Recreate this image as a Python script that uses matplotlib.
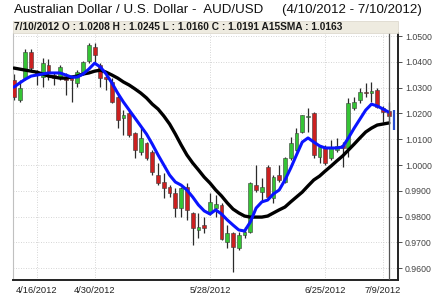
import matplotlib
matplotlib.use("Agg")
import matplotlib.pyplot as plt
from matplotlib.patches import Rectangle
import numpy as np

# ---------------- data ----------------
tick_labels = ["4/16/2012", "4/30/2012", "5/28/2012", "6/25/2012", "7/9/2012"]
tick_days = [4, 14, 34, 54, 64]          # trading-day index of each date label

opens = [1.0329, 1.0252, 1.0337, 1.0438, 1.0360, 1.0341, 1.0388, 1.0349, 1.0341, 1.0341,
         1.0337, 1.0318, 1.0360, 1.0403, 1.0457, 1.0388, 1.0341, 1.0322, 1.0264, 1.0182,
         1.0202, 1.0124, 1.0050, 1.0085, 1.0050, 0.9961, 0.9934, 0.9915, 0.9891, 0.9833,
         0.9915, 0.9814, 0.9748, 0.9767, 0.9818, 0.9833, 0.9845, 0.9702, 0.9736, 0.9678,
         0.9729, 0.9740, 0.9922, 0.9895, 0.9992, 0.9872, 0.9961, 0.9934, 1.0027, 1.0058,
         1.0128, 1.0186, 1.0202, 1.0031, 1.0066, 1.0027, 1.0058, 1.0078, 1.0066, 1.0221,
         1.0252, 1.0283, 1.0279, 1.0291, 1.0221, 1.0208]
highs = [1.0353, 1.0329, 1.0450, 1.0450, 1.0368, 1.0415, 1.0411, 1.0360, 1.0388, 1.0357,
         1.0341, 1.0368, 1.0403, 1.0473, 1.0473, 1.0395, 1.0349, 1.0337, 1.0271, 1.0213,
         1.0213, 1.0128, 1.0143, 1.0089, 1.0058, 1.0008, 0.9969, 0.9922, 0.9911, 0.9915,
         0.9930, 0.9818, 0.9814, 0.9798, 0.9891, 0.9884, 0.9853, 0.9767, 0.9740, 0.9740,
         0.9760, 0.9934, 1.0000, 0.9950, 1.0000, 0.9961, 1.0000, 1.0031, 1.0109, 1.0143,
         1.0194, 1.0221, 1.0205, 1.0078, 1.0078, 1.0097, 1.0105, 1.0089, 1.0260, 1.0264,
         1.0298, 1.0318, 1.0322, 1.0298, 1.0229, 1.0245]
lows = [1.0252, 1.0244, 1.0329, 1.0368, 1.0310, 1.0302, 1.0329, 1.0310, 1.0329, 1.0271,
        1.0244, 1.0302, 1.0349, 1.0395, 1.0399, 1.0302, 1.0291, 1.0240, 1.0143, 1.0116,
        1.0109, 1.0027, 1.0039, 1.0019, 0.9961, 0.9922, 0.9872, 0.9876, 0.9798, 0.9798,
        0.9787, 0.9690, 0.9717, 0.9736, 0.9806, 0.9798, 0.9709, 0.9678, 0.9585, 0.9671,
        0.9717, 0.9736, 0.9895, 0.9857, 0.9872, 0.9853, 0.9934, 0.9930, 1.0019, 1.0054,
        1.0124, 1.0128, 1.0027, 1.0008, 1.0000, 1.0019, 1.0050, 0.9992, 1.0031, 1.0213,
        1.0240, 1.0264, 1.0244, 1.0221, 1.0167, 1.0160]
closes = [1.0264, 1.0298, 1.0438, 1.0376, 1.0349, 1.0395, 1.0360, 1.0337, 1.0380, 1.0329,
          1.0329, 1.0360, 1.0399, 1.0465, 1.0426, 1.0337, 1.0333, 1.0244, 1.0174, 1.0194,
          1.0116, 1.0058, 1.0105, 1.0027, 0.9973, 0.9930, 0.9911, 0.9891, 0.9833, 0.9911,
          0.9826, 0.9756, 0.9760, 0.9756, 0.9857, 0.9849, 0.9713, 0.9736, 0.9682, 0.9729,
          0.9740, 0.9930, 0.9903, 0.9915, 0.9876, 0.9953, 0.9942, 1.0027, 1.0085, 1.0124,
          1.0194, 1.0190, 1.0039, 1.0070, 1.0008, 1.0066, 1.0074, 1.0066, 1.0240, 1.0244,
          1.0283, 1.0279, 1.0287, 1.0225, 1.0205, 1.0191]

sma15 = [1.0376, 1.0372, 1.0368, 1.0364, 1.0360, 1.0353, 1.0345, 1.0341, 1.0337, 1.0337,
         1.0341, 1.0345, 1.0353, 1.0357, 1.0364, 1.0368, 1.0360, 1.0349, 1.0337, 1.0322,
         1.0310, 1.0295, 1.0279, 1.0260, 1.0236, 1.0217, 1.0190, 1.0159, 1.0120, 1.0078,
         1.0039, 1.0008, 0.9981, 0.9953, 0.9930, 0.9903, 0.9880, 0.9853, 0.9829, 0.9814,
         0.9802, 0.9798, 0.9798, 0.9798, 0.9802, 0.9814, 0.9826, 0.9837, 0.9857, 0.9876,
         0.9895, 0.9919, 0.9942, 0.9957, 0.9977, 0.9996, 1.0016, 1.0035, 1.0058, 1.0081,
         1.0105, 1.0128, 1.0143, 1.0155, 1.0159, 1.0163]
sma_fast = [1.0302, 1.0318, 1.0333, 1.0345, 1.0349, 1.0353, 1.0357, 1.0357, 1.0357, 1.0349,
            1.0341, 1.0341, 1.0353, 1.0372, 1.0395, 1.0380, 1.0353, 1.0318, 1.0279, 1.0244,
            1.0213, 1.0182, 1.0151, 1.0120, 1.0081, 1.0039, 1.0000, 0.9961, 0.9934, 0.9922,
            0.9903, 0.9876, 0.9845, 0.9822, 0.9810, 0.9826, 0.9810, 0.9787, 0.9767, 0.9748,
            0.9744, 0.9779, 0.9833, 0.9857, 0.9864, 0.9888, 0.9903, 0.9942, 0.9988, 1.0039,
            1.0089, 1.0105, 1.0089, 1.0074, 1.0066, 1.0066, 1.0066, 1.0070, 1.0105, 1.0143,
            1.0178, 1.0213, 1.0236, 1.0229, 1.0217, 1.0205]

last_info = "7/10/2012 O : 1.0208 H : 1.0245 L : 1.0160 C : 1.0191 A15SMA : 1.0163"
title = "Australian Dollar / U.S. Dollar -  AUD/USD     (4/10/2012 - 7/10/2012)"
marker_bar = (1.0136, 1.0213)   # blue bar right of the last candle
y_ticks = [0.96, 0.97, 0.98, 0.99, 1.00, 1.01, 1.02, 1.03, 1.04, 1.05]

# ---------------- figure ----------------
W, H = 434, 296
fig = plt.figure(figsize=(W / 100, H / 100), dpi=100)
fig.patch.set_facecolor("white")
ax = fig.add_axes([13 / W, 1 - 280 / H, (398 - 13) / W, (280 - 33) / H])

n = len(opens)
x = np.arange(n)
o = np.array(opens); c = np.array(closes); h = np.array(highs); l = np.array(lows)
up = c >= o

# grid
for yv in y_ticks:
    ax.axhline(yv, color="#c8c8c8", lw=0.6, ls=(0, (1, 2)), zorder=0)
for xv in tick_days:
    ax.axvline(xv, color="#c8c8c8", lw=0.6, ls=(0, (1, 2)), zorder=0)

# wicks
ax.vlines(x, l, h, color="#2b2b2b", lw=0.9, zorder=2)
# bodies
bottoms = np.minimum(o, c)
heights = np.maximum(np.abs(c - o), 0.0002)
colors = np.where(up, "#35c435", "#cc2020")
ax.bar(x, heights, bottom=bottoms, width=0.66, color=colors,
       edgecolor="#3a3a3a", linewidth=0.4, zorder=3)

# moving averages
ax.plot(x, sma15, color="black", lw=2.4, zorder=4, solid_capstyle="round")
ax.plot(x, sma_fast, color="#0a14ff", lw=2.2, zorder=5, solid_capstyle="round")

# cursor line at last bar and blue marker bar
ax.axvline(n - 1, color="#555555", lw=0.9, zorder=6)
ax.vlines(n - 0.1, marker_bar[0], marker_bar[1], color="#2a4fd0", lw=1.6, zorder=6)

ax.set_xlim(-0.15, 66.6)
ax.set_ylim(0.9554, 1.0512)

# axes styling
ax.yaxis.tick_right()
ax.set_yticks(y_ticks)
ax.set_yticklabels([f"{v:.4f}" for v in y_ticks])
ax.set_xticks(tick_days)
ax.set_xticklabels(tick_labels)
ax.tick_params(axis="y", direction="out", length=3, width=0.6, color="#333333",
               labelsize=6.3, labelcolor="#444444", pad=2)
ax.tick_params(axis="x", length=0, labelsize=6.7, labelcolor="#222222", pad=4)
for lab in ax.get_xticklabels() + ax.get_yticklabels():
    lab.set_family(["Liberation Sans", "DejaVu Sans"])
ax.spines["left"].set_color("#c0c0c0")
ax.spines["left"].set_linewidth(0.8)
ax.spines["top"].set_visible(False)
ax.spines["right"].set_color("#222222")
ax.spines["right"].set_linewidth(1.4)
ax.spines["bottom"].set_color("#222222")
ax.spines["bottom"].set_linewidth(1.4)

# info bar
fig.patches.append(Rectangle((13 / W, 1 - 33 / H), (398 - 13) / W, 12 / H,
                             transform=fig.transFigure, facecolor="#eeebe0",
                             edgecolor="#d8d4c8", linewidth=0.5, zorder=0))
fig.text(14 / W, 1 - 27 / H, last_info, fontsize=7.3, fontweight="bold",
         family=["Liberation Sans", "DejaVu Sans"], color="#1a1a1a",
         va="center", ha="left")

# title
fig.text(218 / W, 1 - 10 / H, title, fontsize=9.6,
         family=["Liberation Sans", "DejaVu Sans"], color="#111111",
         va="center", ha="center")

fig.savefig("out.png", dpi=100, facecolor="white")
